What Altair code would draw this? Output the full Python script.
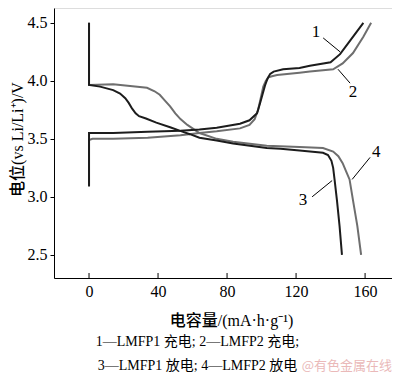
import altair as alt
import pandas as pd

# ---- data ----
cap1 = [0, 0, 2, 14, 34, 53, 64, 74, 87.5, 93, 97.4, 99, 100.5, 102, 103.5, 105, 107, 112.5, 122, 128, 140, 145.5, 151, 159]
v1 = [3.09, 3.55, 3.55, 3.55, 3.56, 3.57, 3.58, 3.595, 3.63, 3.66, 3.72, 3.80, 3.88, 3.96, 4.02, 4.06, 4.08, 4.10, 4.11, 4.13, 4.16, 4.23, 4.34, 4.50]

cap2 = [0, 0, 2, 14, 34, 53, 64, 74, 87.5, 93, 96, 98, 99.5, 101, 102.5, 104, 106, 109, 122, 128, 141.5, 147, 153, 159, 163.5]
v2 = [3.10, 3.49, 3.50, 3.50, 3.51, 3.53, 3.55, 3.565, 3.59, 3.62, 3.67, 3.75, 3.85, 3.95, 4.00, 4.03, 4.04, 4.05, 4.07, 4.08, 4.10, 4.15, 4.24, 4.38, 4.50]

cap3 = [0, 0, 6.4, 14, 18, 21, 23, 25, 27, 29, 33, 39, 47, 54.5, 58.5, 64, 74, 83.5, 103, 111, 122, 135.6, 138.5, 140.5, 141.5, 142.3, 143.7, 145.2, 146.6]
v3 = [4.50, 3.965, 3.95, 3.92, 3.89, 3.85, 3.81, 3.76, 3.72, 3.695, 3.675, 3.64, 3.60, 3.56, 3.54, 3.51, 3.485, 3.46, 3.42, 3.415, 3.40, 3.38, 3.36, 3.31, 3.25, 3.15, 2.97, 2.75, 2.50]

cap4 = [0, 0, 14, 33.6, 38, 41, 44, 47, 50, 53, 57, 60, 64, 74, 83.5, 103, 122, 135.6, 141.5, 144.5, 147, 149, 151, 153, 155.5, 157.7]
v4 = [4.50, 3.965, 3.97, 3.94, 3.91, 3.88, 3.83, 3.78, 3.72, 3.67, 3.62, 3.59, 3.55, 3.50, 3.475, 3.44, 3.43, 3.42, 3.39, 3.35, 3.29, 3.22, 3.15, 2.97, 2.75, 2.50]

x_ticks = [0, 40, 80, 120, 160]
y_ticks = [2.5, 3.0, 3.5, 4.0, 4.5]

label_text = ["1", "2", "3", "4"]
label_x = [131.6, 153.0, 124.0, 166.4]
label_y = [4.42, 3.90, 2.97, 3.39]
lead_x1 = [135.7, 144.3, 129.3, 162.9]
lead_y1 = [4.37, 4.10, 3.00, 3.34]
lead_x2 = [145.5, 151.3, 140.9, 152.5]
lead_y2 = [4.25, 3.98, 3.14, 3.15]

caption = ["1—LMFP1 充电; 2—LMFP2 充电;", "3—LMFP1 放电; 4—LMFP2 放电"]
watermark = ["@有色金属在线"]

# ---- tables ----
def series(cap, v, name):
    return pd.DataFrame({"cap": cap, "v": v, "s": name, "o": range(len(cap))})

dark_df = pd.concat([series(cap1, v1, "1"), series(cap3, v3, "3")])
gray_df = pd.concat([series(cap2, v2, "2"), series(cap4, v4, "4")])
lab_df = pd.DataFrame({"t": label_text, "x": label_x, "y": label_y})
lead_df = pd.DataFrame({"x": lead_x1, "y": lead_y1, "x2": lead_x2, "y2": lead_y2})
tick_df = pd.DataFrame({"t": x_ticks})

SERIF = "Liberation Serif, Noto Sans CJK SC"
W, H = 338, 270

xs = alt.Scale(domain=[-20.3, 175.6], nice=False, zero=False)
ys = alt.Scale(domain=[2.3, 4.628], nice=False, zero=False)

x_axis = alt.Axis(values=x_ticks, ticks=False, tickSize=0, labelPadding=5,
                  labelFont=SERIF, labelFontSize=16, labelColor="black",
                  title="电容量/(mA·h·g⁻¹)", titleFont=SERIF, titleFontSize=16,
                  titleFontWeight=500, titleColor="black",
                  titleX=177, titleY=42, titleBaseline="middle", titleAlign="center",
                  grid=False, domainColor="black")
y_axis = alt.Axis(values=y_ticks, format=".1f", tickSize=4, tickColor="black",
                  labelPadding=3, labelFont=SERIF, labelFontSize=16, labelColor="black",
                  title="电位(vs Li/Li⁺)/V", titleFont=SERIF, titleFontSize=16,
                  titleFontWeight=500, titleColor="black",
                  titleX=-37, titleY=131, titleBaseline="middle", titleAlign="center",
                  grid=False, domainColor="black")

gray = alt.Chart(gray_df).mark_line(color="#6e6e6e", strokeWidth=2).encode(
    x=alt.X("cap:Q", scale=xs, axis=x_axis),
    y=alt.Y("v:Q", scale=ys, axis=y_axis),
    detail="s:N", order="o:Q")
dark = alt.Chart(dark_df).mark_line(color="#1c1c1c", strokeWidth=2).encode(
    x=alt.X("cap:Q", scale=xs), y=alt.Y("v:Q", scale=ys),
    detail="s:N", order="o:Q")

leads = alt.Chart(lead_df).mark_rule(color="black", strokeWidth=1).encode(
    x=alt.X("x:Q", scale=xs), y=alt.Y("y:Q", scale=ys), x2="x2:Q", y2="y2:Q")
labels = alt.Chart(lab_df).mark_text(font=SERIF, fontSize=17, color="black").encode(
    x=alt.X("x:Q", scale=xs), y=alt.Y("y:Q", scale=ys), text="t:N")

inticks = alt.Chart(tick_df).mark_rule(color="black", strokeWidth=1).encode(
    x=alt.X("t:Q", scale=xs), y=alt.value(H), y2=alt.value(H - 5))

cap_df = pd.DataFrame({"t": caption, "row": [0, 1]})
cap1_txt = alt.Chart(cap_df[cap_df.row == 0]).mark_text(
    font=SERIF, fontSize=14, color="black", align="center", baseline="middle").encode(
    text="t:N", x=alt.value(143.5), y=alt.value(334))
cap2_txt = alt.Chart(cap_df[cap_df.row == 1]).mark_text(
    font=SERIF, fontSize=14, color="black", align="center", baseline="middle").encode(
    text="t:N", x=alt.value(143.5), y=alt.value(358))
wm = alt.Chart(pd.DataFrame({"t": watermark})).mark_text(
    font="Noto Sans CJK SC", fontSize=13, color="#eab9b9", align="right", baseline="middle").encode(
    text="t:N", x=alt.value(338), y=alt.value(358))

chart = alt.layer(gray, dark, leads, labels, inticks, cap1_txt, cap2_txt, wm).properties(
    width=W, height=H,
    autosize=alt.AutoSizeParams(type="none"),
    padding={"left": 46, "top": 0, "right": 0, "bottom": 95},
).configure_view(stroke="black", strokeWidth=1).configure(background="white")

chart.save("out.html", embed_options={"renderer": "svg", "actions": False})
